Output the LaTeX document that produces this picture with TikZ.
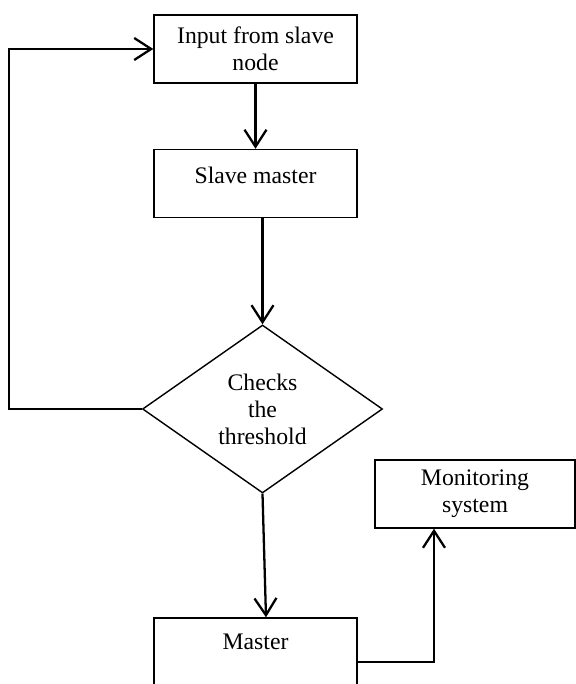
\documentclass[tikz,border=0pt]{standalone}
\usepackage{fontspec}
\setmainfont{Liberation Serif}
\usetikzlibrary{shapes.geometric}
\usetikzlibrary{arrows.meta}
\tikzset{>={Straight Barb[length=0.34cm,width=0.44cm]}}
\tikzset{box/.style={draw,line width=0.8pt,minimum width=4.06cm,minimum height=1.36cm,align=center,inner sep=0pt},
  flow/.style={line width=1.3pt,->}}

\begin{document}
\begin{tikzpicture}[font=\fontsize{13.5}{15.4}\selectfont]
\useasboundingbox (0,0) rectangle (11.52,13.68);

% Boxes
\node[box] (Input) at (5.11,12.70) {Input from slave\\node};
\node[box,text depth=0.34cm] (Slave) at (5.11,10.01) {Slave master};
\node[draw,line width=0.8pt,diamond,aspect=1.43,inner sep=0pt,minimum width=4.8cm,minimum height=3.36cm,align=center] (Check) at (5.25,5.5) {Checks\\the\\threshold};
\node[box,text depth=0.4cm] (Master) at (5.11,0.64) {Master};
\node[box,minimum width=4.0cm] (Monitor) at (9.50,3.80) {Monitoring\\system};

% Arrows
\draw[flow] (Input) -- (Slave);
\draw[flow] (Slave.south -| Check.north) -- (Check.north);
\draw[flow] (Check.south) -- ([xshift=0.21cm]Master.north);
\draw[flow] (Check.west) -- ++(-2.66,0) |- (Input.west);
\draw[flow] ([yshift=-0.2cm]Master.east) -| ([xshift=-0.82cm]Monitor.south);

\end{tikzpicture}
\end{document}
